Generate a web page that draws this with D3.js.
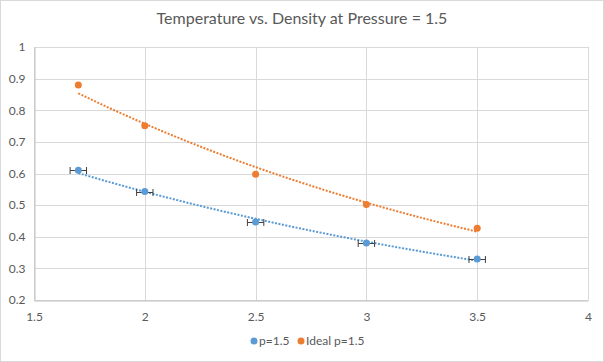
<!doctype html>
<html lang='en'>
<head>
    <meta charset='UTF-8'>
    <title>Temperature vs. Density</title>
    <style>
        body { margin: 0; background: #fff; }
        text { font-family: Lato, 'Open Sans', sans-serif; fill: #595959; }
        .grid line { stroke: #d9d9d9; stroke-width: 1; }
        .tick text { font-size: 12px; }
    </style>
</head>
<body>
<script src='https://d3js.org/d3.v7.min.js'></script>
<script>
  // temperature (x) and density (y)
  const temps = [1.7, 2, 2.5, 3, 3.5]
  const measured = [0.61, 0.543, 0.447, 0.38, 0.33]
  const ideal = [0.88, 0.751, 0.598, 0.502, 0.427]
  const xErr = 0.037
  const xTicks = [1.5, 2, 2.5, 3, 3.5, 4]
  const yTicks = [0.2, 0.3, 0.4, 0.5, 0.6, 0.7, 0.8, 0.9, 1]
  const seriesNames = ['p=1.5', 'Ideal p=1.5']
  const colors = ['#5b9bd5', '#ed7d31']

  const W = 604, H = 362
  const margin = {top: 47, right: 16, bottom: 62, left: 34}

  const svg = d3.select('body').append('svg')
    .attr('width', W)
    .attr('height', H)

  svg.append('rect')
    .attr('x', 0.5).attr('y', 0.5)
    .attr('width', W - 1).attr('height', H - 1)
    .attr('fill', '#fff')
    .attr('stroke', '#d9d9d9')

  const xScale = d3.scaleLinear().domain([1.5, 4]).range([margin.left, W - margin.right])
  const yScale = d3.scaleLinear().domain([0.2, 1]).range([H - margin.bottom, margin.top])

  // gridlines
  const grid = svg.append('g').attr('class', 'grid')
  grid.selectAll('line.h')
    .data(yTicks)
    .enter().append('line')
    .attr('x1', xScale(1.5)).attr('x2', xScale(4))
    .attr('y1', d => Math.round(yScale(d)) + 0.5)
    .attr('y2', d => Math.round(yScale(d)) + 0.5)
  grid.selectAll('line.v')
    .data(xTicks)
    .enter().append('line')
    .attr('y1', yScale(0.2)).attr('y2', yScale(1))
    .attr('x1', d => Math.round(xScale(d)) + 0.5)
    .attr('x2', d => Math.round(xScale(d)) + 0.5)

  //// Axis ////
  const xAxis = svg.append('g')
    .attr('transform', `translate(0, ${Math.round(yScale(0.2)) + 0.5})`)
    .call(d3.axisBottom(xScale).tickValues(xTicks).tickFormat(d3.format('')).tickSize(0).tickPadding(12))
  xAxis.select('.domain').attr('stroke', '#bfbfbf')

  const yAxis = svg.append('g')
    .attr('transform', `translate(${Math.round(xScale(1.5)) + 0.5}, 0)`)
    .call(d3.axisLeft(yScale).tickValues(yTicks).tickFormat(d3.format('')).tickSize(0).tickPadding(9))
  yAxis.select('.domain').attr('stroke', '#bfbfbf')
  svg.selectAll('.tick text').attr('fill', '#595959')

  // exponential trendlines (least squares on ln y)
  function expFit(xs, ys) {
    const ly = ys.map(Math.log)
    const mx = d3.mean(xs), my = d3.mean(ly)
    const b = d3.sum(xs, (v, i) => (v - mx) * (ly[i] - my)) / d3.sum(xs, v => (v - mx) * (v - mx))
    const a = Math.exp(my - b * mx)
    return x => a * Math.exp(b * x)
  }

  const samples = d3.range(0, 61).map(i => temps[0] + (temps[temps.length - 1] - temps[0]) * i / 60)
  const line = d3.line().x(d => xScale(d[0])).y(d => yScale(d[1]))

  ;[measured, ideal].forEach((vals, s) => {
    const f = expFit(temps, vals)
    svg.append('path')
      .datum(samples.map(x => [x, f(x)]))
      .attr('d', line)
      .attr('fill', 'none')
      .attr('stroke', colors[s])
      .attr('stroke-width', 2)
      .attr('stroke-dasharray', '2,1.5')
  })

  // error bars on measured series
  const err = svg.append('g').attr('stroke', '#404040').attr('stroke-width', 1)
  temps.forEach((t, i) => {
    const y = Math.round(yScale(measured[i])) + 0.5
    err.append('line')
      .attr('x1', xScale(t - xErr)).attr('x2', xScale(t + xErr))
      .attr('y1', y).attr('y2', y)
    ;[t - xErr, t + xErr].forEach(e => {
      err.append('line')
        .attr('x1', xScale(e)).attr('x2', xScale(e))
        .attr('y1', y - 3.5).attr('y2', y + 3.5)
    })
  })

  ;[measured, ideal].forEach((vals, s) => {
    svg.append('g').selectAll('circle')
      .data(vals)
      .enter().append('circle')
      .attr('cx', (d, i) => xScale(temps[i]))
      .attr('cy', d => yScale(d))
      .attr('r', 3.5)
      .attr('fill', colors[s])
  })

  svg.append('text')
    .attr('x', W / 2)
    .attr('y', 24)
    .attr('text-anchor', 'middle')
    .style('font-size', '16px')
    .text('Temperature vs. Density at Pressure = 1.5')

  // legend
  const legend = svg.append('g').attr('transform', 'translate(254, 341)')
  const offsets = [0, 47]
  seriesNames.forEach((name, s) => {
    legend.append('circle')
      .attr('cx', offsets[s]).attr('cy', 0).attr('r', 3.5)
      .attr('fill', colors[s])
    legend.append('text')
      .attr('x', offsets[s] + 5).attr('y', 4)
      .style('font-size', '12px')
      .text(name)
  })
</script>
</body>
</html>
